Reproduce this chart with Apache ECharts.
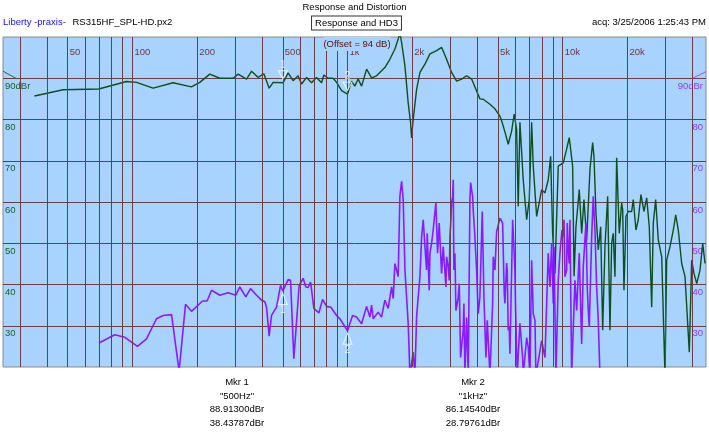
<!DOCTYPE html>
<html><head><meta charset="utf-8">
<script src="https://cdn.jsdelivr.net/npm/echarts@6.0.0/dist/echarts.min.js"></script>
<style>html,body{margin:0;padding:0;background:#fff}#c{width:709px;height:440px}</style>
</head><body><div id="c"></div>
<script>
// ---- data ----
const gridFreqs = [30,40,50,60,70,80,90,100,200,300,400,500,600,700,800,900,1000,2000,3000,4000,5000,6000,7000,8000,9000,10000,20000,30000,40000];
const labelFreqs = [50,100,200,500,1000,2000,5000,10000,20000];
const labelTexts = ['50','100','200','500','1k','2k','5k','10k','20k'];
const yTickValues = [30,40,50,60,70,80,90];

const respFreq = [35,47.6,69.7,93.8,104.4,124.7,154.5,188,205.6,228.8,254.7,293.8,309.8,339,358,384,408,432,451,502,529,558,589,611,645,680,717,757,776,812,857,889,938,1000,1044,1081,1120,1162,1226,1293,1364,1439,1491,1573,1660,1719,1751,1783,1848,1914,1963,1985,2019,2094,2170,2289,2415,2594,2736,2887,3046,3214,3391,3577,3774,3981,4124,4273,4591,4843,5110,5204,5390,5585,5791,5954,6109,6215,6330,6557,6802,6994,7176,7300,7571,7988,8276,8570,8794,8984,9209,9539,10065,10437,10732,11129,11300,11531,11947,12259,12565,12932,13397,13789,13983,14286,14643,15023,15349,15732,16194,16596,16900,17190,17508,17830,18334,18809,19020,19280,19700,20190,20940,21300,21920,22470,23130,23880,24590,25280,25940,26390,27070,27840,28880,29910,30460,31560,32690,33550,34490,35770,37060,38810,39810,40810,42010,43520,44800,45920];
const respDb = [85.7,87.2,87.4,89.2,89.0,87.6,88.9,87.9,89.0,91.0,90.0,90.0,91.0,89.8,91.7,90.2,91.1,87.6,89.0,88.9,91.3,89.4,90.6,88.6,90.2,88.9,90.2,88.9,90.8,90.0,90.0,89.0,87.0,86.15,89.3,88.1,89.8,88.1,92.2,90.1,90.6,91.8,92.6,94.6,97.1,99.5,101,98.7,93.0,84.0,79.2,75.5,80.0,87.3,91.4,93.4,95.9,96.7,97.5,94.6,91.4,89.3,89.8,90.6,89.8,86.9,85.0,84.9,83.7,82.6,80.8,79.7,77.0,74.0,77.2,81.3,77.6,58.9,79.3,65.4,55.7,60.6,79.3,68.7,56.5,63.0,62.2,65.4,71.1,52.4,42.7,68.7,69.5,72.8,75.6,68.7,42.0,54.0,63.0,52.4,60.6,50.8,67.9,74.4,71.1,57.3,48.4,54.0,28.9,49.2,61.4,28.9,50.0,52.4,41.9,70.7,52.4,59.8,58.1,38.6,56.5,57.7,57.7,60.6,53.2,55.7,61.8,57.7,61.0,54.0,34.5,54.9,60.6,50.8,46.7,18,45.9,49.2,53.2,56.9,53.2,45.1,41.9,23.6,45.9,42.7,40.2,43.5,50.0,45.1];

const hd3Freq = [69.9,82.7,92.1,105.5,116.2,129.3,138.8,151.9,164.7,176.4,188.1,211.6,222.3,233.1,254.7,278.4,302.3,315.6,336.5,353.9,377.5,398.1,412.4,420,431.9,443.1,467.5,488,500,529.3,543.1,562.7,595.6,621.6,639.8,655.8,672.9,697.2,735.5,765.2,798.6,836.3,888.8,920.7,1000,1055,1062,1101,1120,1162,1226,1270,1293,1316,1388,1439,1491,1545,1602,1630,1660,1719,1751,1783,1814,1848,1914,1949,2019,2056,2094,2130,2170,2210,2248,2289,2330,2346,2397,2415,2459,2501,2528,2574,2621,2667,2736,2784,2866,2887,2938,2969,2991,3024,3046,3080,3099,3122,3156,3190,3235,3269,3305,3354,3449,3475,3512,3577,3639,3706,3734,3774,3815,3839,3909,3981,4050,4124,4230,4305,4399,4461,4591,4726,4757,4843,4932,5110,5260,5351,5390,5490,5526,5585,5645,5688,5855,5999,6045,6149,6330,6516,6557,6802,6918,7046,7176,7300,7434,7513,7988,8276,8570,8729,8889,9044,9111,9307,9539,9714,9924,10065,10140,10250,10437,10505,10617,10732,10814,11013,11202,11407,11617,11947,12259,12470,12835,13014,13155,13297,13644,13878,14132,14392,14643,14910,15184];
const hd3Db = [25.8,27.8,27.2,25.0,26.8,31.7,32.5,32.7,19,35.2,33.5,36.0,36.0,38.6,37.4,38.0,37.4,39.4,37.0,39.0,37.4,36.2,35.8,34.5,27.5,32.5,34.5,39.8,38.44,41.2,41.0,22.0,39.8,41.5,39.4,39.3,40.6,34.2,33.1,36.4,34.7,34.5,32.5,31.7,28.8,32.5,32.75,32.1,32.3,30.5,34.7,32.1,35.0,31.7,33.3,32.1,36.2,34.2,39.4,36.6,45.1,41.9,61.4,65.0,60.6,43.5,30.5,18,23.6,18,32.1,37.0,41.9,51.6,55.7,49.2,43.5,52.4,38.6,47.6,50.0,53.2,55.7,59.8,47.6,54.9,42.7,49.2,39.4,46.7,44.3,41.0,51.6,55.7,59.8,61.3,65.4,43.5,47.6,33.7,35.4,36.9,40.2,22.3,28.9,35.4,18,32.0,18,60.6,64.7,64.6,61.3,58.1,51.5,43.5,32.9,37.0,57.7,37.0,22.3,31.3,18,35.4,46.7,43.5,52.8,56.1,54.9,37.9,35.4,45.2,43.5,28.9,29.7,23.2,55.7,43.5,33.7,18,30.6,22.3,18,27.1,24.8,18,45.9,32.9,31.3,18,26.4,22.3,47.6,39.4,50.0,35.4,49.1,18,41.0,47.6,53.2,51.6,55.7,41.9,43.5,54.9,48.4,45.1,55.7,18,18,41.0,33.7,47.6,25.6,44.3,54.9,39.4,33.7,29.7,51.6,61.4,53.2,39.4,31.3,18,18];

const markerFreq = [500, 1000];
const markerResp = [88.913, 86.1454];
const markerHd3 = [38.43787, 28.79761];
const markerNames = ['Mkr 1', 'Mkr 2'];
const markerTexts = ['"500Hz"', '"1kHz"'];
const refLevel = 90;

// ---- chart ----
const FONT = "'Liberation Sans', Arial, sans-serif";
const GRIDC = '#6b3d48';
const GREEN = '#0d4f1f';
const PURPLE = '#8c1aff';
const PLOTBG = '#a8d3fe';
const chart = echarts.init(document.getElementById('c'), null, {renderer: 'canvas'});

const pair = (xs, ys) => xs.map((x, i) => [x, ys[i]]);
const yFmt = v => v === 90 ? '90dBr' : (yTickValues.indexOf(v) >= 0 ? String(v) : '');

const option = {
  animation: false,
  backgroundColor: '#ffffff',
  textStyle: {fontFamily: FONT},
  grid: {left: 3, right: 3, top: 37, bottom: 73, show: true, backgroundColor: PLOTBG, borderColor: '#8a8a8a', borderWidth: 1, containLabel: false, outerBoundsMode: 'none'},
  xAxis: {type: 'log', logBase: 10, min: 25, max: 46400, axisLine: {show: false}, axisTick: {show: false}, axisLabel: {show: false}, splitLine: {show: false}},
  yAxis: [
    {type: 'value', min: 20, max: 100, interval: 10, position: 'left',
     axisLine: {show: false}, axisTick: {show: false},
     splitLine: {show: true, showMinLine: false, showMaxLine: false, lineStyle: {color: GRIDC, width: 1}},
     axisLabel: {inside: true, margin: 2, color: '#15602b', fontSize: 9.5, fontFamily: FONT, verticalAlign: 'top', padding: [3, 0, 0, 0], formatter: yFmt}},
    {type: 'value', min: 20, max: 100, interval: 10, position: 'right',
     axisLine: {show: false}, axisTick: {show: false}, splitLine: {show: false},
     axisLabel: {inside: true, margin: 3, color: '#9a33ff', fontSize: 9.5, fontFamily: FONT, verticalAlign: 'top', padding: [3, 0, 0, 0], formatter: yFmt}}
  ],
  series: [
    {type: 'scatter', name: 'freqLabels', z: 1, clip: false, silent: true,
     data: labelFreqs.map(f => [f, 100]), symbolSize: 0,
     label: {show: true, position: 'right', distance: 2, offset: [0, 15], color: '#5c0a0a', fontSize: 9.5, fontFamily: FONT,
       formatter: p => labelTexts[p.dataIndex]},
     markLine: {silent: true, symbol: ['none', 'none'], animation: false,
       lineStyle: {color: GRIDC, width: 1, type: 'solid'}, label: {show: false},
       emphasis: {disabled: true},
       data: gridFreqs.map(f => ({xAxis: f}))}},
    {type: 'line', name: 'Response', z: 3, yAxisIndex: 0, showSymbol: false, silent: true,
     data: pair(respFreq, respDb), lineStyle: {color: GREEN, width: 1.4}},
    {type: 'line', name: 'HD3', z: 3, yAxisIndex: 1, showSymbol: false, silent: true,
     data: pair(hd3Freq, hd3Db), lineStyle: {color: PURPLE, width: 1.6}},
    {type: 'scatter', z: 5, yAxisIndex: 0, silent: true,
     data: pair(markerFreq, markerResp), symbol: 'triangle', symbolRotate: 180, symbolSize: [9, 8], symbolOffset: [0, -8],
     itemStyle: {color: 'rgba(0,0,0,0)', borderColor: '#ffffff', borderWidth: 1},
     label: {show: true, position: 'top', distance: 0, color: '#ffffff', fontSize: 10, fontFamily: FONT, formatter: p => String(p.dataIndex + 1)}},
    {type: 'scatter', z: 5, yAxisIndex: 1, silent: true,
     data: pair(markerFreq, markerHd3), symbol: 'triangle', symbolSize: [9, 11], symbolOffset: [0, 8],
     itemStyle: {color: 'rgba(0,0,0,0)', borderColor: '#ffffff', borderWidth: 1},
     label: {show: true, position: 'bottom', distance: 0, color: '#ffffff', fontSize: 10, fontFamily: FONT, formatter: p => String(p.dataIndex + 1)}}
  ]
};
chart.setOption(option);

// ---- text and decorations ----
const txt = (text, x, y, align, color, size, extra) => Object.assign({
  type: 'text', z: 100, silent: true,
  style: Object.assign({text: text, x: x, y: y, textAlign: align, textVerticalAlign: 'middle', verticalAlign: 'middle',
    fill: color, font: size + 'px ' + FONT}, extra || {})
});
const g = [];
g.push(txt('Response and Distortion', 354.5, 7, 'center', '#000', 9.5));
g.push({type: 'text', z: 100, silent: true, style: {x: 3, y: 22, textVerticalAlign: 'middle', verticalAlign: 'middle',
  text: '{a|Liberty -praxis-}  {b|RS315HF_SPL-HD.px2}',
  rich: {a: {fill: '#1010ee', font: '9.5px ' + FONT}, b: {fill: '#000', font: '9.5px ' + FONT}}}});
g.push(txt('Response and HD3', 356.5, 23, 'center', '#000', 9.5, {backgroundColor: '#ffffff', borderColor: '#333333', borderWidth: 1, padding: [2, 3, 1, 3]}));
g.push(txt('acq: 3/25/2006 1:25:43 PM', 706, 22, 'right', '#000', 9.5));
g.push(txt('(Offset = 94 dB)', 357, 44, 'center', '#5c0a0a', 9.5, {backgroundColor: PLOTBG, padding: [1, 0, 3, 0]}));
const colX = [237, 473];
const rowY = [382.5, 396, 409.5, 423];
for (let i = 0; i < markerFreq.length; i++) {
  g.push(txt(markerNames[i], colX[i], rowY[0], 'center', '#000', 9.5));
  g.push(txt(markerTexts[i], colX[i], rowY[1], 'center', '#000', 9.5));
  g.push(txt(markerResp[i].toFixed(5) + 'dBr', colX[i], rowY[2], 'center', '#000', 9.5));
  g.push(txt(markerHd3[i].toFixed(5) + 'dBr', colX[i], rowY[3], 'center', '#000', 9.5));
}
// reference-level indicators
const px = (f, v) => chart.convertToPixel({gridIndex: 0}, [f, v]);
const a1 = px(25, refLevel + 1.7), a3 = px(28.7, refLevel);
g.push({type: 'polyline', z: 100, silent: true, shape: {points: [a1, a3]}, style: {stroke: '#2a6a3a', lineWidth: 1, fill: null}});
const b1 = px(40240, refLevel), b2 = px(46400, refLevel + 1.6);
g.push({type: 'polyline', z: 100, silent: true, shape: {points: [b1, b2]}, style: {stroke: '#a050ff', lineWidth: 1, fill: null}});
chart.setOption({graphic: g});
</script>
</body></html>
